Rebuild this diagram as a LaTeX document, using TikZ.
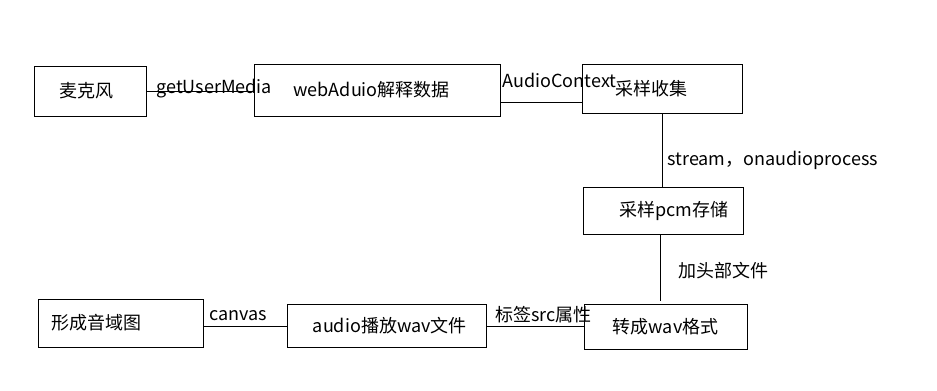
\documentclass[tikz,border=0pt]{standalone}
\usepackage{fontspec}
\setmainfont{Noto Sans CJK SC}

\tikzset{every picture/.style={line width=0.75pt}}
\tikzset{blk/.style={draw, inner sep=0.75pt, font=\fontsize{13.5}{16}\selectfont},
  lbl/.style={inner sep=0.75pt, font=\fontsize{13.5}{16}\selectfont}}

\begin{document}
\begin{tikzpicture}[x=0.75pt,y=0.75pt,yscale=-1,xscale=1]
\useasboundingbox (0,0) rectangle (937,390);

%Shape: Rectangle [id:mic] 
\node (mic) [blk, minimum width=84pt, minimum height=37.5pt] at (90,91) {麦克风\hspace*{5pt}};
%Shape: Rectangle [id:web] 
\node (web) [blk, minimum width=184.5pt, minimum height=39pt] at (377,90) {webAduio解释数据\hspace*{8pt}};
%Shape: Rectangle [id:collect] 
\node (collect) [blk, minimum width=120pt, minimum height=36.75pt] at (662,88.5) {采样收集\hspace*{16.5pt}};
%Shape: Rectangle [id:pcm] 
\node (pcm) [blk, minimum width=120pt, minimum height=35.25pt] at (663,210.5) {\hspace*{16.5pt}采样pcm存储};
%Shape: Rectangle [id:wav] 
\node (wav) [blk, minimum width=122.25pt, minimum height=33.75pt] at (665.5,326.5) {转成wav格式};
%Shape: Rectangle [id:play] 
\node (play) [blk, minimum width=149.25pt, minimum height=32.25pt] at (386.5,325.5) {\hspace*{5pt}audio播放wav文件};
%Shape: Rectangle [id:form] 
\node (form) [blk, inner xsep=9.75pt, text width=104.25pt, align=left, minimum height=36pt] at (120.5,323) {形成音域图};

%Straight Lines [id:mic-web] 
\draw (mic.east) -- (mic.east -| web.west);
%Straight Lines [id:web-collect] 
\draw ([yshift=9pt]web.east) -- ([yshift=9pt]web.east -| collect.west);
%Straight Lines [id:collect-pcm] 
\draw (collect.south) -- (collect.south |- pcm.north);
%Straight Lines [id:pcm-wav] 
\draw ([xshift=-2.25pt]pcm.south) -- ([xshift=-2.25pt,yshift=-2.25pt]pcm.south |- wav.north);
%Straight Lines [id:wav-play] 
\draw (wav.west) -- (wav.west -| play.east);
%Straight Lines [id:form-play] 
\draw ([yshift=2.25pt]form.east) -- ([yshift=2.25pt]form.east -| play.west);

% Text Node
\node (tUser) [lbl, anchor=base west] at (155,93) {getUserMedia};
% Text Node
\node (tCtx) [lbl, anchor=base west] at (501,87) {AudioContext};
% Text Node
\node (tStream) [lbl, anchor=base west] at (666,165) {stream，onaudioprocess};
% Text Node
\node (tHead) [lbl, anchor=base west] at (677,277) {加头部文件};
% Text Node
\node (tSrc) [lbl, anchor=base west] at (494,321) {标签src属性};
% Text Node
\node (tCanvas) [lbl, anchor=base west] at (208,320) {canvas};

\end{tikzpicture}
\end{document}
